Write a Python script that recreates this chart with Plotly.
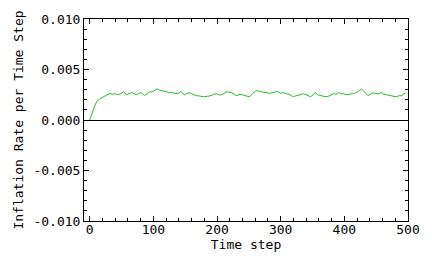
import plotly.graph_objects as go

time_steps = [0, 2, 4, 6, 8, 11, 14, 19, 23, 27, 32, 36, 40, 44, 48, 53, 58, 62, 66, 70,
              73, 77, 81, 86, 90, 94, 98, 102, 106, 110, 115, 120, 125, 130, 134, 138, 143,
              149, 152, 156, 160, 166, 172, 179, 185, 191, 195, 199, 203, 207, 211, 215,
              219, 223, 227, 230, 234, 238, 242, 246, 251, 256, 261, 265, 269, 273, 277,
              282, 287, 291, 295, 300, 305, 309, 313, 317, 320, 323, 326, 331, 336, 341,
              347, 351, 354, 358, 362, 367, 373, 378, 383, 387, 391, 395, 398, 402, 406,
              410, 414, 418, 422, 427, 432, 437, 441, 445, 449, 453, 458, 462, 466, 470,
              474, 478, 481, 484, 487, 490, 493, 496]
inflation_milli = [0.0, 0.3, 0.75, 1.07, 1.4, 1.85, 2.0, 2.2, 2.35, 2.5, 2.62, 2.55, 2.6,
                   2.52, 2.58, 2.8, 2.5, 2.6, 2.72, 2.6, 2.5, 2.62, 2.72, 2.4, 2.6, 2.8,
                   2.78, 2.9, 3.08, 2.95, 2.9, 2.82, 2.7, 2.72, 2.65, 2.6, 2.82, 2.48, 2.6,
                   2.7, 2.62, 2.42, 2.38, 2.3, 2.35, 2.42, 2.55, 2.6, 2.5, 2.48, 2.62, 2.8,
                   2.75, 2.7, 2.55, 2.42, 2.5, 2.55, 2.45, 2.4, 2.3, 2.6, 2.92, 2.85, 2.8,
                   2.7, 2.72, 2.65, 2.7, 2.78, 2.82, 2.65, 2.7, 2.6, 2.55, 2.4, 2.3, 2.38,
                   2.45, 2.5, 2.6, 2.45, 2.3, 2.5, 2.72, 2.5, 2.42, 2.35, 2.3, 2.45, 2.6,
                   2.55, 2.72, 2.62, 2.58, 2.48, 2.5, 2.58, 2.6, 2.7, 2.82, 3.08, 2.72,
                   2.42, 2.55, 2.7, 2.62, 2.6, 2.72, 2.55, 2.5, 2.45, 2.4, 2.38, 2.3, 2.35,
                   2.42, 2.38, 2.6, 2.62]
inflation = [v / 1000 for v in inflation_milli]

x_ticks = [0, 100, 200, 300, 400, 500]
y_tickvals = [-0.010, -0.005, 0.0, 0.005, 0.010]
y_ticktext = ["-0.010", "-0.005", "0.000", "0.005", "0.010"]

FONT = "DejaVu Sans Mono"

fig = go.Figure()
fig.add_trace(go.Scatter(x=time_steps, y=inflation, mode="lines",
                         line=dict(color="#2cb82c", width=1), showlegend=False))

fig.update_layout(
    width=432, height=268,
    margin=dict(l=84, r=19, t=16, b=47),
    paper_bgcolor="white", plot_bgcolor="white",
    font=dict(family=FONT, size=12, color="black"),
)
fig.update_xaxes(
    range=[-9, 500], tickvals=x_ticks, ticks="inside", ticklen=5, tickcolor="black",
    minor=dict(ticks="inside", dtick=20, ticklen=3, tickcolor="black"),
    showline=True, linecolor="black", linewidth=1, mirror="allticks",
    showgrid=False, zeroline=False, ticklabelstandoff=-4,
    title=dict(text="Time step", font=dict(family=FONT, size=13), standoff=2),
    tickfont=dict(family=FONT, size=13),
)
fig.update_yaxes(
    range=[-0.010, 0.010], tickvals=y_tickvals, ticktext=y_ticktext,
    ticks="inside", ticklen=5, tickcolor="black",
    minor=dict(ticks="inside", dtick=0.001, ticklen=3, tickcolor="black"),
    showline=True, linecolor="black", linewidth=1, mirror="allticks",
    showgrid=False, zeroline=True, zerolinecolor="black", zerolinewidth=1,
    title=dict(text="Inflation Rate per Time Step", font=dict(family=FONT, size=13), standoff=6),
    tickfont=dict(family=FONT, size=13),
)

fig.write_html("out.html")
